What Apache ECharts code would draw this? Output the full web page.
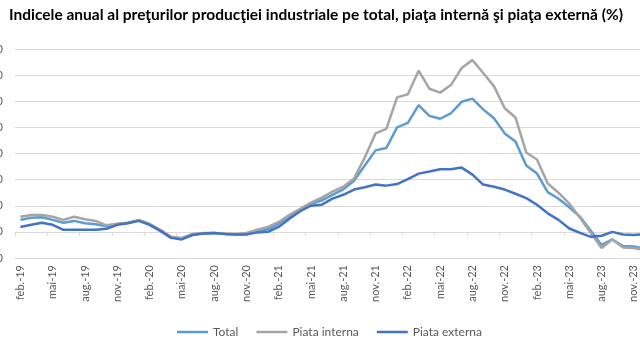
<!DOCTYPE html>
<html>
<head>
<meta charset="utf-8">
<script src="https://cdn.jsdelivr.net/npm/echarts@6/dist/echarts.min.js"></script>
<style>html,body{margin:0;padding:0;background:#fff}#c{width:640px;height:360px}</style>
</head>
<body>
<div id="c"></div>
<script>
const months = ['ian.','feb.','mar.','apr.','mai','iun.','iul.','aug.','sep.','oct.','nov.','dec.'];
const categories = [];
for (let y = 19; y <= 23; y++) {
  for (let m = 0; m < 12; m++) {
    if (y === 19 && m === 0) continue;
    categories.push(months[m] + '-' + y);
  }
}
const total = [4.6,5.4,5.6,4.6,3.5,4.2,3.3,2.9,2.1,2.9,3.5,4.4,2.9,0.6,-2.1,-2.5,-1.0,-0.6,-0.4,-0.8,-1.0,-0.8,0.2,1.0,3.1,5.8,8.3,10.6,12.1,14.2,16.3,19.6,25.4,31.2,32.1,40.0,41.7,48.5,44.4,43.3,45.4,49.8,51.0,46.9,43.5,37.7,34.6,25.4,22.3,15.2,12.7,9.4,5.8,0.4,-5.0,-2.9,-5.4,-5.6,-6.5];
const interna = [5.8,6.5,6.5,5.8,4.6,5.8,4.8,4.2,2.5,3.1,3.5,4.6,3.1,0.8,-1.9,-2.3,-0.8,-0.4,-0.4,-0.6,-0.8,-0.4,0.8,1.9,3.8,6.5,8.8,11.2,13.1,15.4,17.3,20.4,28.5,37.7,39.4,51.5,52.7,61.7,54.8,53.3,56.2,62.7,65.8,60.8,55.8,47.3,43.8,30.4,27.7,18.5,15.0,10.8,5.4,-0.4,-6.2,-2.9,-6.0,-6.2,-6.9];
const externa = [1.9,2.7,3.5,2.7,0.8,0.8,0.8,0.8,1.2,2.7,3.3,4.2,2.7,0.4,-2.3,-2.9,-1.2,-0.6,-0.4,-0.8,-1.0,-1.0,-0.2,0.0,1.9,5.0,7.9,10.0,10.4,12.7,14.2,16.2,17.1,18.1,17.7,18.3,20.2,22.3,23.1,24.0,24.0,24.6,21.9,18.1,17.3,16.2,14.6,12.9,10.4,7.1,4.6,1.3,-0.4,-1.9,-1.5,0.0,-1.0,-1.2,-0.8];

const chart = echarts.init(document.getElementById('c'), null, {renderer: 'canvas'});
const font = 'Lato, "Open Sans", sans-serif';
chart.setOption({
  animation: false,
  backgroundColor: '#fff',
  title: {
    text: 'Indicele anual al preţurilor producţiei industriale pe total, piaţa internă şi piaţa externă (%)',
    left: 4, top: 2,
    textStyle: {fontFamily: font, fontWeight: 'bold', fontSize: 15.5, color: '#000'}
  },
  legend: {
    left: 172, top: 321,
    icon: 'rect', itemWidth: 31, itemHeight: 2.5, itemGap: 18,
    textStyle: {fontFamily: font, fontSize: 12, color: '#595959'},
    data: ['Total', 'Piata interna', 'Piata externa']
  },
  grid: {left: 15, top: 49, width: 635, bottom: 102, containLabel: false, outerBoundsMode: 'none'},
  xAxis: {
    type: 'category', data: categories, boundaryGap: true,
    axisLine: {lineStyle: {color: '#d9d9d9'}},
    axisTick: {show: true, interval: 2, length: 4, lineStyle: {color: '#d9d9d9'}},
    axisLabel: {interval: 2, rotate: 90, margin: 7, fontFamily: font, fontSize: 11, color: '#595959', hideOverlap: false}
  },
  yAxis: {
    type: 'value', min: -10, max: 70, interval: 10,
    axisLine: {show: false}, axisTick: {show: false},
    axisLabel: {margin: 12, fontFamily: font, fontSize: 11, color: '#595959'},
    splitLine: {lineStyle: {color: '#d9d9d9', width: 1}}
  },
  series: [
    {name: 'Total', type: 'line', data: total, symbol: 'none', lineStyle: {width: 2.5, color: '#5B9BD5'}, itemStyle: {color: '#5B9BD5'}},
    {name: 'Piata interna', type: 'line', data: interna, symbol: 'none', lineStyle: {width: 2.5, color: '#A5A5A5'}, itemStyle: {color: '#A5A5A5'}},
    {name: 'Piata externa', type: 'line', data: externa, symbol: 'none', lineStyle: {width: 2.5, color: '#4472C4'}, itemStyle: {color: '#4472C4'}}
  ]
});
</script>
</body>
</html>
